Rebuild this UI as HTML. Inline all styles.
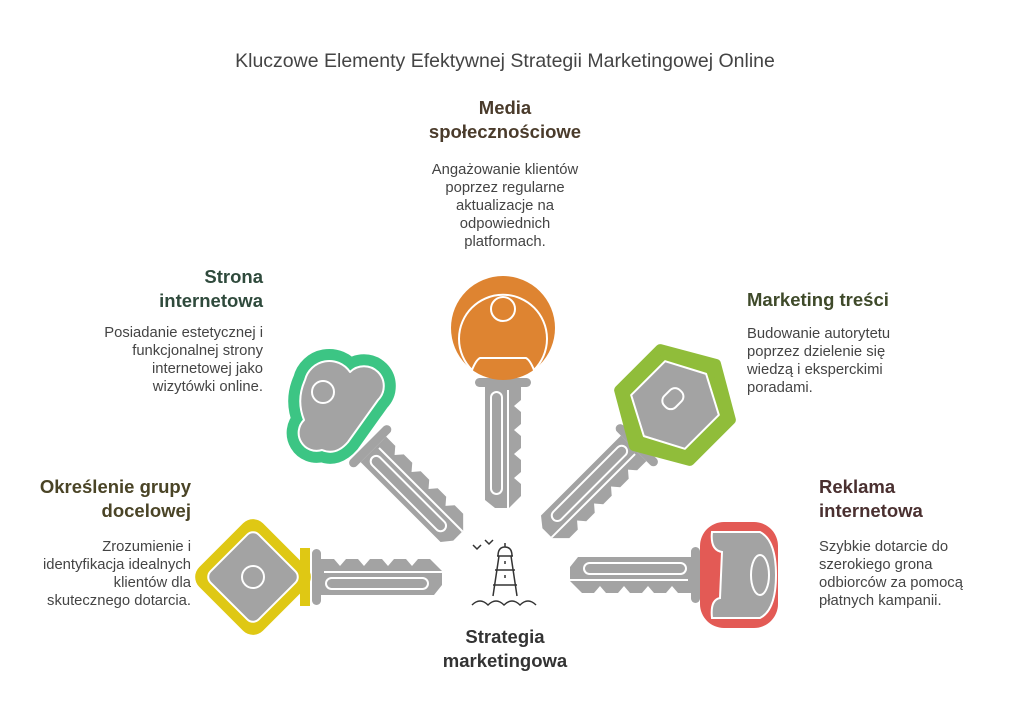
<!DOCTYPE html>
<html><head><meta charset="utf-8"><style>
body{margin:0;background:#fff;width:1011px;height:722px;overflow:hidden;font-family:"Liberation Sans","DejaVu Sans",sans-serif}
</style></head><body>
<svg width="1011" height="722" viewBox="0 0 1011 722" xmlns="http://www.w3.org/2000/svg" font-family="Liberation Sans, DejaVu Sans, sans-serif">
<defs>
<g id="shaft">
  <rect x="0" y="-28" width="9" height="56" rx="4.5" fill="#a3a3a3"/>
  <path d="M9,-18 L22,-18 L28,-11 L34,-18 L46,-18 L52,-11 L58,-18 L70,-18 L76,-11 L82,-18 L94,-18 L100,-11 L106,-18 L118,-18 L130,-6 L130,8 L122,18 L9,18 Z" fill="#a3a3a3"/>
  <line x1="12" y1="-5" x2="130" y2="-5" stroke="#fff" stroke-width="2"/>
  <rect x="14" y="1" width="102" height="11" rx="5.5" fill="none" stroke="#fff" stroke-width="2"/>
</g>
</defs>
<text x="505" y="67" text-anchor="middle" font-size="19.5" fill="#444">Kluczowe Elementy Efektywnej Strategii Marketingowej Online</text>

<!-- shafts -->
<use href="#shaft" transform="translate(312,577)"/>
<use href="#shaft" transform="translate(367,443) rotate(45)"/>
<use href="#shaft" transform="translate(503,378) rotate(90)"/>
<use href="#shaft" transform="translate(640,442) rotate(135)"/>
<use href="#shaft" transform="translate(700,575) rotate(180)"/>

<!-- yellow head -->
<g transform="translate(253,577) rotate(45)">
  <rect x="-45" y="-45" width="90" height="90" rx="14" fill="#dfc814"/>
  <rect x="-34" y="-34" width="68" height="68" rx="8" fill="#a3a3a3" stroke="#fff" stroke-width="2"/>
</g>
<rect x="300" y="548" width="10" height="58" fill="#dfc814"/>
<circle cx="253" cy="577" r="11" fill="none" stroke="#fff" stroke-width="2"/>

<!-- green head -->
<path d="M305,380 A25,25 0 0 1 350,372 A18,18 0 0 1 378,400 L348,442 Q336,456 322,450 A18,18 0 0 1 304,420 Q296,400 305,380 Z" fill="#3cc584" stroke="#3cc584" stroke-width="24" stroke-linejoin="round"/>
<path d="M305,380 A25,25 0 0 1 350,372 A18,18 0 0 1 378,400 L348,442 Q336,456 322,450 A18,18 0 0 1 304,420 Q296,400 305,380 Z" fill="#a3a3a3" stroke="#fff" stroke-width="2" stroke-linejoin="round"/>
<circle cx="323" cy="392" r="11" fill="none" stroke="#fff" stroke-width="2"/>

<!-- orange head -->
<circle cx="503" cy="328" r="52" fill="#de8431"/>
<path d="M472,370 A44,44 0 1 1 534,370 Q530,360 526,358 L480,358 Q476,360 472,370 Z" fill="none" stroke="#fff" stroke-width="2"/>
<circle cx="503" cy="309" r="12" fill="none" stroke="#fff" stroke-width="2"/>

<!-- lime head -->
<g transform="translate(675,405) rotate(-45)">
  <polygon points="-58,0 -29,-50 29,-50 58,0 29,50 -29,50" fill="#90bd3a" stroke="#90bd3a" stroke-width="10" stroke-linejoin="round"/>
  <polygon points="-44,0 -24,-38 24,-38 44,0 24,38 -24,38" fill="#a3a3a3" stroke="#fff" stroke-width="2" stroke-linejoin="round"/>
  <rect x="-8" y="-14" width="22" height="16" rx="7" fill="none" stroke="#fff" stroke-width="2"/>
</g>

<!-- red head -->
<rect x="700" y="522" width="78" height="106" rx="24" fill="#e35a55"/>
<path d="M712,532 L760,532 Q776,540 776,575 Q776,610 760,618 L712,618 Q710,600 720,598 L722,552 Q710,550 712,532 Z" fill="#a3a3a3" stroke="#fff" stroke-width="2"/>
<ellipse cx="760" cy="575" rx="9" ry="20" fill="none" stroke="#fff" stroke-width="2"/>

<!-- lighthouse -->
<g fill="none" stroke="#333" stroke-width="1.5">
  <path d="M473,545 l4,4 l4,-4 M485,540 l4,4 l4,-4"/>
  <path d="M505,543 v4 M498,556 q0,-9 7,-9 q7,0 7,9 z M497,556 h16 M499,556 l-6,40 M511,556 l6,40 M495,570 h20 M493,585 h24 M505,561 v3 M505,575 v3"/>
  <path d="M472,605 q8,-8 16,0 q8,-8 16,0 q8,-8 16,0 q8,-8 16,0"/>
</g>

<!-- texts -->
<g font-weight="bold" font-size="18.5">
  <text x="505" y="114" text-anchor="middle" fill="#4a3b2b">Media</text>
  <text x="505" y="138" text-anchor="middle" fill="#4a3b2b">społecznościowe</text>
  <text x="263" y="283" text-anchor="end" fill="#2f4a3c">Strona</text>
  <text x="263" y="307" text-anchor="end" fill="#2f4a3c">internetowa</text>
  <text x="747" y="306" fill="#3f4a2a">Marketing treści</text>
  <text x="191" y="493" text-anchor="end" fill="#4a4426">Określenie grupy</text>
  <text x="191" y="517" text-anchor="end" fill="#4a4426">docelowej</text>
  <text x="819" y="493" fill="#4a3030">Reklama</text>
  <text x="819" y="517" fill="#4a3030">internetowa</text>
  <text x="505" y="643" text-anchor="middle" fill="#333">Strategia</text>
  <text x="505" y="667" text-anchor="middle" fill="#333">marketingowa</text>
</g>
<g font-size="14.8" fill="#444">
  <g text-anchor="middle">
    <text x="505" y="174">Angażowanie klientów</text>
    <text x="505" y="192">poprzez regularne</text>
    <text x="505" y="210">aktualizacje na</text>
    <text x="505" y="228">odpowiednich</text>
    <text x="505" y="246">platformach.</text>
  </g>
  <g text-anchor="end">
    <text x="263" y="337">Posiadanie estetycznej i</text>
    <text x="263" y="355">funkcjonalnej strony</text>
    <text x="263" y="373">internetowej jako</text>
    <text x="263" y="391">wizytówki online.</text>
    <text x="191" y="551">Zrozumienie i</text>
    <text x="191" y="569">identyfikacja idealnych</text>
    <text x="191" y="587">klientów dla</text>
    <text x="191" y="605">skutecznego dotarcia.</text>
  </g>
  <text x="747" y="338">Budowanie autorytetu</text>
  <text x="747" y="356">poprzez dzielenie się</text>
  <text x="747" y="374">wiedzą i eksperckimi</text>
  <text x="747" y="392">poradami.</text>
  <text x="819" y="551">Szybkie dotarcie do</text>
  <text x="819" y="569">szerokiego grona</text>
  <text x="819" y="587">odbiorców za pomocą</text>
  <text x="819" y="605">płatnych kampanii.</text>
</g>
</svg>
</body></html>
